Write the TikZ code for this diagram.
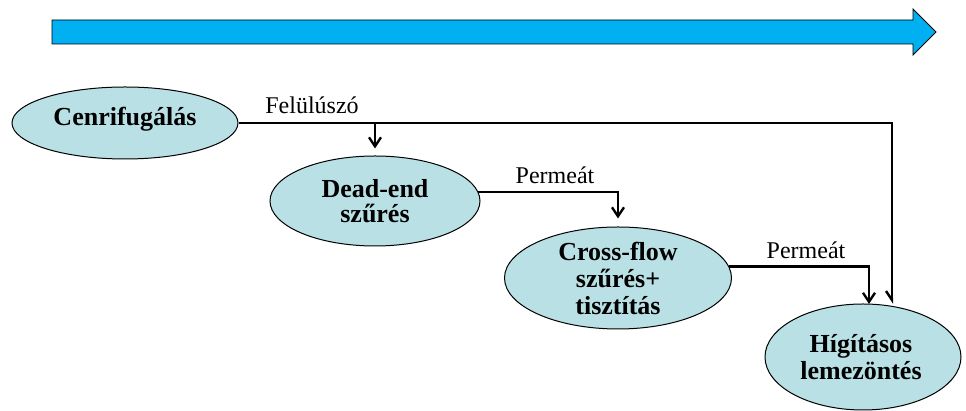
\documentclass[tikz,border=0pt]{standalone}
\usepackage{fontspec}
\setmainfont{Liberation Serif}
\usetikzlibrary{arrows.meta, shapes.geometric}
\definecolor{pfill}{RGB}{185,224,228}
\definecolor{tblue}{RGB}{0,176,240}
\tikzset{
  proc/.style={ellipse, draw, fill=pfill, line width=0.5pt, inner sep=0pt},
  ptext/.style={font=\bfseries\fontsize{13}{13.5}\selectfont, align=center},
  lbl/.style={font=\fontsize{12}{14}\selectfont},
  flow/.style={line width=1.2pt, -{Straight Barb[length=4.5pt,width=6pt]}}
}

\begin{document}
\begin{tikzpicture}[x=0.5pt,y=0.5pt]
\useasboundingbox (0,0) rectangle (966,411);
\draw[fill=tblue, line width=0.4pt] (52,391) -- (913,391) -- (913,402) -- (936,379) -- (913,356) -- (913,367) -- (52,367) -- cycle;

\node[proc, minimum width=113pt, minimum height=36pt] (cen) at (125,288) {};
\node[ptext] at ([yshift=2pt]cen) {Cenrifugálás};

\node[proc, minimum width=105pt, minimum height=45pt] (dead) at (375,210) {};
\node[ptext, font=\bfseries\fontsize{13}{12.5}\selectfont] at (dead) {Dead-end\\szűrés};

\node[proc, minimum width=113.5pt, minimum height=51pt] (cross) at (618,133) {};
\node[ptext] at (cross) {Cross-flow\\szűrés+\\tisztítás};

\node[proc, minimum width=98pt, minimum height=53pt] (hig) at (863,54) {};
\node[ptext] at ([xshift=-1pt]hig) {Hígításos\\lemezöntés};

\coordinate (in1) at (869,107);
\coordinate (in2) at (892,107);

\draw[line width=1.2pt, -{Straight Barb[right,length=4.5pt,width=6pt]}] (cen.east) -| (in2);
\draw[flow] (cen.east -| dead.north) -- ([yshift=3.5pt]dead.north);
\draw[flow] (dead.5) -| ([yshift=4pt]cross.north);
\draw[flow] (cross.6) -| (in1);

\node[lbl] (lfel) at (312,306) {Felülúszó};
\node[lbl] (lperm1) at (555,236) {Permeát};
\node[lbl] (lperm2) at (806,161) {Permeát};
\end{tikzpicture}
\end{document}
